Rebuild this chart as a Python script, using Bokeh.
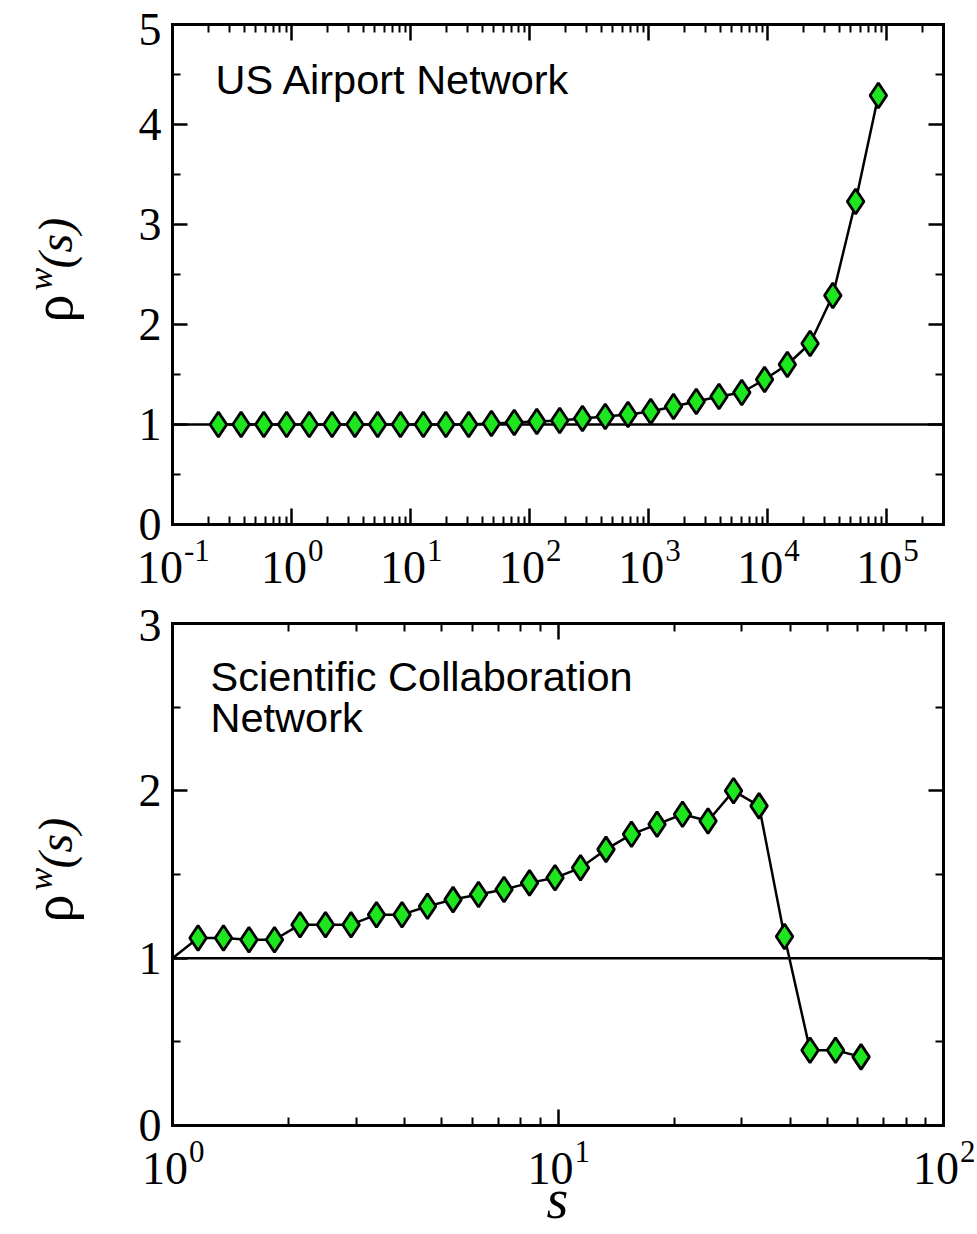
import math
from bokeh.plotting import figure
from bokeh.models import (Label, LinearAxis, LogAxis, FixedTicker, Range1d,
                          CustomJSTickFormatter)
from bokeh.layouts import column
from bokeh.embed import file_html
from bokeh.resources import INLINE

# ---------------- data ----------------
airport_s = [0.243, 0.377, 0.585, 0.909, 1.41, 2.19, 3.41, 5.29, 8.22, 12.8,
             19.8, 30.8, 47.8, 74.3, 115, 179, 278, 432, 671, 1042,
             1618, 2512, 3900, 6061, 9419, 14630, 22700, 35250, 54800, 85100]
airport_rho = [1.00, 1.00, 1.00, 1.00, 1.00, 1.00, 1.00, 1.00, 1.00, 1.00,
               1.00, 1.00, 1.01, 1.02, 1.03, 1.04, 1.06, 1.08, 1.10, 1.13,
               1.18, 1.23, 1.28, 1.32, 1.45, 1.60, 1.81, 2.29, 3.23, 4.29]

sci_s = [1.0, 1.165, 1.356, 1.579, 1.839, 2.142, 2.494, 2.905, 3.382, 3.939,
         4.587, 5.342, 6.221, 7.244, 8.436, 9.824, 11.44, 13.32, 15.51, 18.07,
         21.04, 24.50, 28.53, 33.23, 38.69, 45.06, 52.48, 61.11]
sci_rho = [1.00, 1.12, 1.12, 1.11, 1.11, 1.20, 1.20, 1.20, 1.26, 1.26,
           1.31, 1.35, 1.38, 1.41, 1.45, 1.48, 1.54, 1.65, 1.74, 1.80,
           1.86, 1.82, 2.00, 1.91, 1.13, 0.45, 0.45, 0.41]

top_exponents = ["-1", "0", "1", "2", "3", "4", "5"]
bot_exponents = ["0", "1", "2"]
top_yticks = [0, 1, 2, 3, 4, 5]
bot_yticks = [0, 1, 2, 3]
top_title = "US Airport Network"
bot_title = ["Scientific Collaboration", "Network"]
REF_LEVEL = 1.0

GREEN = "#1ee61e"
SERIF = "Liberation Serif"
SANS = "Liberation Sans"
W = 977
B = 3                     # tiny border; the frame covers almost the whole canvas
BOX_L, BOX_R = 172, 943   # plot box, page pixels
BL = 0.3375               # label anchor sits this many em above the baseline
ASC, DESC = 0.891, 0.216  # Liberation ascent / descent (em)
TICK_FS = 46


def style_axis(ax, major_in, minor_in):
    ax.axis_line_color = "black"
    ax.axis_line_width = 3
    ax.axis_line_cap = "square"
    ax.major_tick_line_color = "black"
    ax.major_tick_line_width = 2.5
    ax.minor_tick_line_color = "black"
    ax.minor_tick_line_width = 2
    ax.major_tick_in = major_in
    ax.major_tick_out = 0
    ax.minor_tick_in = minor_in
    ax.minor_tick_out = 0
    ax.formatter = CustomJSTickFormatter(code="return ''")
    ax.major_label_text_font_size = "2px"
    ax.major_label_standoff = 0


def decade_minors(lo, hi, limit):
    out = []
    for e in range(lo, hi + 1):
        for m in range(2, 10):
            v = m * 10.0 ** e
            if v < limit:
                out.append(v)
    return out


def text_label(X, Y, px, py, text, fs, font=SERIF, style="normal", align="left",
               rotated=False, x_offset=0):
    """px, py: wanted baseline anchor in page pixels."""
    if rotated:
        x, y, ang = X(px - BL * fs), Y(py), math.pi / 2
    else:
        x, y, ang = X(px), Y(py - BL * fs), 0.0
    return Label(x=x, y=y, text=text, text_font=font, text_font_style=style,
                 text_font_size=f"{fs}px", text_color="black", angle=ang,
                 text_align=align, text_baseline="alphabetic", x_offset=x_offset)


def make_panel(page_top, height, box_t, box_b, xlo, xhi, ylo, yhi, yticks, xticks):
    LX0, LX1 = math.log10(xlo), math.log10(xhi)

    def X(px):
        return 10 ** (LX0 + (px - BOX_L) * (LX1 - LX0) / (BOX_R - BOX_L))

    def Y(py):
        return ylo + (box_b - py) * (yhi - ylo) / (box_b - box_t)

    p = figure(width=W, height=height, x_axis_type="log",
               x_range=Range1d(X(B), X(W - B)),
               y_range=Range1d(Y(page_top + height - B), Y(page_top + B)),
               output_backend="svg", toolbar_location=None,
               min_border_left=B, min_border_right=B,
               min_border_top=B, min_border_bottom=B)
    p.grid.visible = False
    p.outline_line_color = None
    p.background_fill_color = "white"
    p.border_fill_color = "white"

    yminor = [t + 0.5 for t in yticks[:-1]]
    xminor = decade_minors(int(round(LX0)), int(round(LX1)), xhi)

    bot = p.xaxis[0]
    bot.ticker = FixedTicker(ticks=xticks, minor_ticks=xminor)
    bot.fixed_location = ylo
    bot.bounds = (xlo, xhi)
    style_axis(bot, 16, 8)

    lef = p.yaxis[0]
    lef.ticker = FixedTicker(ticks=yticks, minor_ticks=yminor)
    lef.fixed_location = xlo
    lef.bounds = (ylo, yhi)
    style_axis(lef, 15, 8)

    rig = LinearAxis(ticker=FixedTicker(ticks=yticks, minor_ticks=yminor),
                     fixed_location=xhi, bounds=(ylo, yhi))
    style_axis(rig, 15, 8)
    p.add_layout(rig, "right")

    top = LogAxis(ticker=FixedTicker(ticks=xticks, minor_ticks=xminor),
                  fixed_location=yhi, bounds=(xlo, xhi))
    style_axis(top, 16, 8)
    p.add_layout(top, "above")

    # reference line rho = 1 across the box
    p.line([xlo, xhi], [REF_LEVEL, REF_LEVEL], line_color="black", line_width=2.5)

    # y tick labels (digits centred on their tick, kept inside the canvas)
    min_base = page_top + B + ASC * TICK_FS + 1
    for v in yticks:
        tick_py = box_b - (v - ylo) * (box_b - box_t) / (yhi - ylo)
        base = max(tick_py + 0.338 * TICK_FS, min_base)
        p.add_layout(text_label(X, Y, BOX_L - 11, base, str(v), TICK_FS,
                                align="right"))
    return p, X, Y


def add_xtick_labels(p, exps, X, Y, box_b):
    lx0, lx1 = math.log10(X(BOX_L)), math.log10(X(BOX_R))
    for e in exps:
        w10 = 46.0
        wsup = sum(10.0 if ch == "-" else 15.0 for ch in e)
        left = -(w10 + wsup) / 2.0
        cx = BOX_L + (int(e) - lx0) / (lx1 - lx0) * (BOX_R - BOX_L)
        p.add_layout(text_label(X, Y, cx + left, box_b + 59, "10", 46))
        p.add_layout(text_label(X, Y, cx + left + w10 + 1, box_b + 36, e, 31))


def add_ylabel(p, X, Y, dy):
    p.add_layout(text_label(X, Y, 71, 322 + dy, "\u03c1", 56, rotated=True))
    p.add_layout(text_label(X, Y, 51, 290 + dy, "w", 34, style="italic", rotated=True))
    p.add_layout(text_label(X, Y, 71, 268 + dy, "(s)", 48, style="italic", rotated=True))


P2_TOP = 596
# ---------------- top panel ----------------
p1, X1, Y1 = make_panel(0, P2_TOP, 24, 524, 0.1, 3.0e5, 0, 5, top_yticks,
                        [10.0 ** int(e) for e in top_exponents])
p1.line(airport_s, airport_rho, line_color="black", line_width=2.5)
p1.scatter(airport_s, airport_rho, marker="diamond", size=25,
           fill_color=GREEN, line_color="black", line_width=2.8)
p1.add_layout(text_label(X1, Y1, 215, 93, top_title, 41.5, font=SANS))
add_xtick_labels(p1, top_exponents, X1, Y1, 524)
add_ylabel(p1, X1, Y1, 0)

# ---------------- bottom panel ----------------
p2, X2, Y2 = make_panel(P2_TOP, 1234 - P2_TOP, 623, 1125, 1.0, 100.0, 0, 3, bot_yticks,
                        [10.0 ** int(e) for e in bot_exponents])
p2.line(sci_s, sci_rho, line_color="black", line_width=2.5)
p2.scatter(sci_s[1:], sci_rho[1:], marker="diamond", size=25,
           fill_color=GREEN, line_color="black", line_width=2.8)
p2.add_layout(text_label(X2, Y2, 210, 690, bot_title[0], 41.5, font=SANS))
p2.add_layout(text_label(X2, Y2, 210, 731, bot_title[1], 41.5, font=SANS))
add_xtick_labels(p2, bot_exponents, X2, Y2, 1125)
add_ylabel(p2, X2, Y2, 600)
p2.add_layout(text_label(X2, Y2, 557, 1217, "s", 56, style="italic", align="center"))

layout = column(p1, p2, spacing=0)
open("out.html", "w").write(file_html(layout, INLINE))
